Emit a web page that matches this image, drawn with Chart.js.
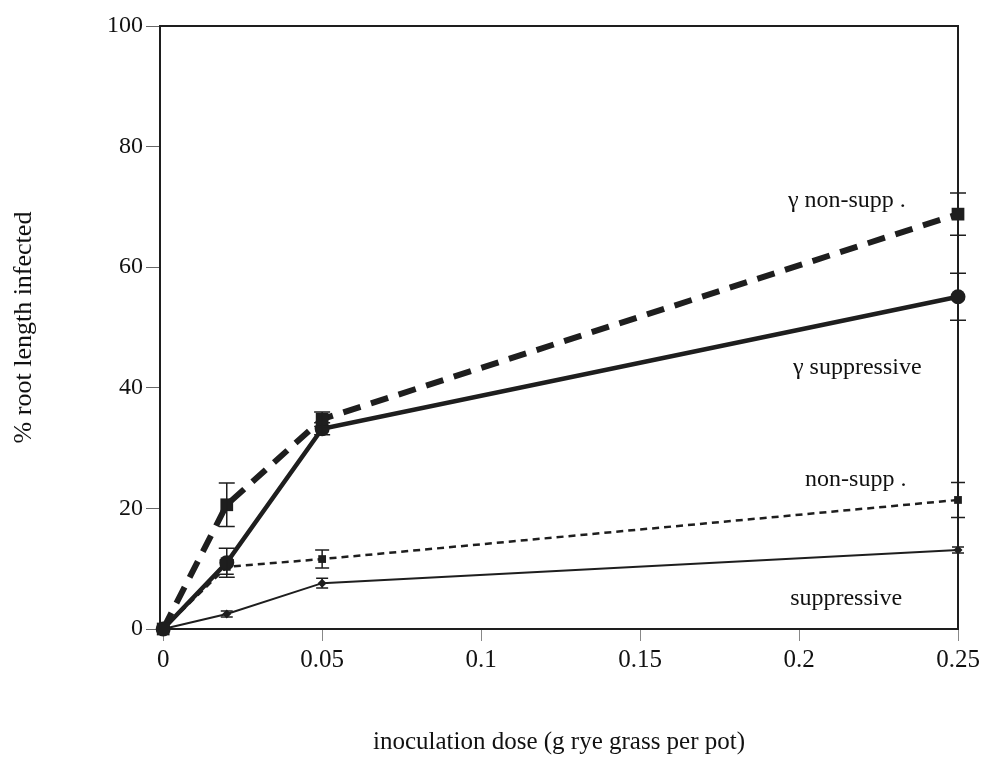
<!DOCTYPE html>
<html>
<head>
<meta charset="utf-8">
<script src="https://cdn.jsdelivr.net/npm/chart.js@4.4.1/dist/chart.umd.min.js"></script>
<style>
  html, body { margin: 0; padding: 0; background: #fff; }
  #wrap { width: 987px; height: 768px; }
</style>
</head>
<body>
<div id="wrap"><canvas id="chart"></canvas></div>
<script>
// dose (g rye grass per pot)
const doses = [0, 0.02, 0.05, 0.25];
const xTicks = [0, 0.05, 0.1, 0.15, 0.2, 0.25];
const yTicks = [0, 20, 40, 60, 80, 100];

// % root length infected, mean and error
const gammaNonSupp = [0, 20.6, 34.8, 68.8];
const gammaNonSuppErr = [0, 3.6, 1.2, 3.5];
const gammaSupp = [0, 11.0, 33.2, 55.1];
const gammaSuppErr = [0, 2.4, 1.0, 3.9];
const nonSupp = [0, 10.3, 11.6, 21.4];
const nonSuppErr = [0, 1.2, 1.5, 2.9];
const supp = [0, 2.5, 7.6, 13.1];
const suppErr = [0, 0.5, 0.8, 0.5];

const seriesNames = ["γ non-supp .", "γ suppressive", "non-supp .", "suppressive"];

const ink = "#1e1e1e";
const serif = "'Liberation Serif', 'DejaVu Serif', serif";

function pts(ys) { return doses.map((d, i) => ({ x: d, y: ys[i] })); }

// error bars from the err arrays
const errorBars = {
  id: "errorBars",
  afterDatasetsDraw(chart) {
    const { ctx, scales: { x, y } } = chart;
    ctx.save();
    ctx.strokeStyle = ink;
    chart.data.datasets.forEach(ds => {
      ctx.lineWidth = ds.errWidth;
      ds.err.forEach((e, i) => {
        if (!e) return;
        const px = x.getPixelForValue(doses[i]);
        const hi = y.getPixelForValue(ds.data[i].y + e);
        const lo = y.getPixelForValue(ds.data[i].y - e);
        const c = ds.cap;
        ctx.beginPath();
        ctx.moveTo(px, hi); ctx.lineTo(px, lo);
        ctx.moveTo(px - c, hi); ctx.lineTo(px + c, hi);
        ctx.moveTo(px - c, lo); ctx.lineTo(px + c, lo);
        ctx.stroke();
      });
    });
    ctx.restore();
  }
};

// top and right sides of the box
const frame = {
  id: "frame",
  afterDraw(chart) {
    const { ctx, chartArea: a } = chart;
    ctx.save();
    ctx.strokeStyle = ink;
    ctx.lineWidth = 2;
    ctx.beginPath();
    ctx.moveTo(a.left, a.top); ctx.lineTo(a.right, a.top); ctx.lineTo(a.right, a.bottom);
    ctx.stroke();
    ctx.restore();
  }
};

// curve names written beside the lines
const curveLabels = {
  id: "curveLabels",
  afterDraw(chart, args, opts) {
    const { ctx, scales: { x, y } } = chart;
    ctx.save();
    ctx.fillStyle = "#111";
    ctx.font = "24px " + serif;
    ctx.textAlign = "left";
    ctx.textBaseline = "middle";
    opts.items.forEach(it => {
      ctx.fillText(it.text, x.getPixelForValue(it.x), y.getPixelForValue(it.y));
    });
    ctx.restore();
  }
};

new Chart(document.getElementById("chart"), {
  type: "line",
  data: {
    datasets: [
      {
        label: seriesNames[0], data: pts(gammaNonSupp), err: gammaNonSuppErr, errWidth: 1.5, cap: 8,
        borderColor: ink, backgroundColor: ink, borderWidth: 6, borderDash: [18, 11],
        pointStyle: "rect", pointRadius: 9, pointBorderWidth: 0
      },
      {
        label: seriesNames[1], data: pts(gammaSupp), err: gammaSuppErr, errWidth: 1.5, cap: 8,
        borderColor: ink, backgroundColor: ink, borderWidth: 4.5,
        pointStyle: "circle", pointRadius: 7.5, pointBorderWidth: 0
      },
      {
        label: seriesNames[2], data: pts(nonSupp), err: nonSuppErr, errWidth: 1.5, cap: 7,
        borderColor: ink, backgroundColor: ink, borderWidth: 2.5, borderDash: [7, 5],
        pointStyle: "rect", pointRadius: 5.5, pointBorderWidth: 0
      },
      {
        label: seriesNames[3], data: pts(supp), err: suppErr, errWidth: 1.5, cap: 6,
        borderColor: ink, backgroundColor: ink, borderWidth: 2,
        pointStyle: "rectRot", pointRadius: 4.5, pointBorderWidth: 0
      }
    ]
  },
  options: {
    responsive: true,
    maintainAspectRatio: false,
    animation: false,
    clip: false,
    layout: { padding: { top: 26, right: 29, left: 0, bottom: 0 } },
    plugins: {
      legend: { display: false },
      tooltip: { enabled: false },
      curveLabels: {
        items: [
          { text: seriesNames[0], x: 0.1965, y: 71.1 },
          { text: seriesNames[1], x: 0.1981, y: 43.4 },
          { text: seriesNames[2], x: 0.2019, y: 24.7 },
          { text: seriesNames[3], x: 0.1972, y: 5.1 }
        ]
      }
    },
    scales: {
      x: {
        type: "linear",
        min: -0.001,
        max: 0.25,
        afterBuildTicks(s) { s.ticks = xTicks.map(v => ({ value: v })); },
        afterFit(s) { s.height = 139; },
        grid: { drawOnChartArea: false, drawTicks: true, tickLength: 12, color: "#888", lineWidth: 1 },
        border: { display: true, color: ink, width: 2 },
        ticks: {
          color: "#111", font: { family: serif, size: 25 }, padding: 4, maxRotation: 0,
          callback: v => String(v)
        },
        title: {
          display: true, text: "inoculation dose (g rye grass per pot)", color: "#111",
          font: { family: serif, size: 25 }, padding: { top: 0, bottom: 11 }
        }
      },
      y: {
        min: 0,
        max: 100,
        afterBuildTicks(s) { s.ticks = yTicks.map(v => ({ value: v })); },
        afterFit(s) { s.width = 160; },
        grid: { drawOnChartArea: false, drawTicks: true, tickLength: 14, color: "#666", lineWidth: 1 },
        border: { display: true, color: ink, width: 2 },
        ticks: { color: "#111", font: { family: serif, size: 24 }, padding: 3 },
        title: {
          display: true, text: "% root length infected", color: "#111",
          font: { family: serif, size: 26 }, padding: { top: 9, bottom: 0 }
        }
      }
    }
  },
  plugins: [errorBars, frame, curveLabels]
});
</script>
</body>
</html>
